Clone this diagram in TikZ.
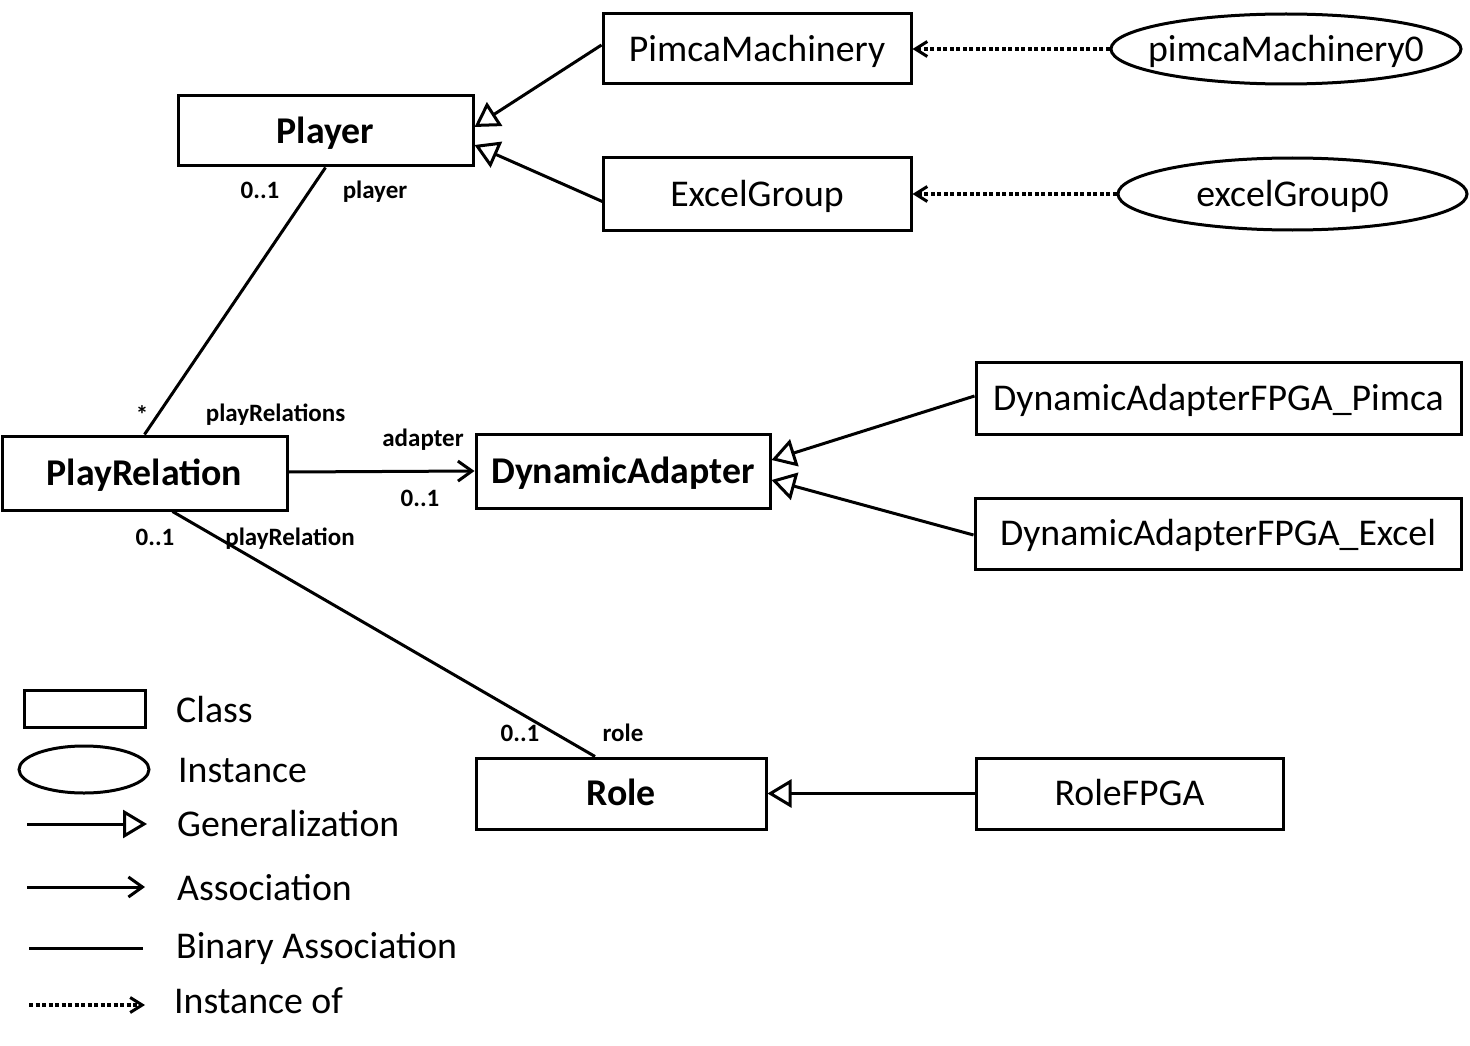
\documentclass[tikz,border=0pt]{standalone}
\usepackage{fontspec}
\setmainfont{Carlito}
\usetikzlibrary{shapes.geometric,arrows.meta,calc}
\newcommand\myLarge{\fontsize{37.8}{42}\selectfont}
\newcommand\mySmall{\fontsize{25}{28}\selectfont\bfseries}
\begin{document}
\begin{tikzpicture}[x=1pt,y=-1pt,
  cls/.style={draw,line width=3pt,rectangle,inner sep=0pt,font=\myLarge,text height=24.3pt,text depth=0pt},
  inst/.style={draw,line width=3pt,ellipse,inner sep=0pt},
  itxt/.style={inner sep=0pt,font=\myLarge,text height=24.3pt,text depth=0pt},
  lbl/.style={inner sep=0pt,font=\mySmall,text height=16.1pt,text depth=0pt},
  leg/.style={inner sep=0pt,font=\myLarge,text height=24.3pt,text depth=0pt,anchor=west},
  gen/.style={line width=3pt,-{Triangle[open,fill=white,length=24pt,width=28pt]}},
  assoc/.style={line width=3pt,-{Straight Barb[length=14pt,width=20pt]}},
  binassoc/.style={line width=3pt},
  instof/.style={line width=3.5pt,dash pattern=on 4pt off 2.5pt,-{Straight Barb[length=12pt,width=15pt,line width=3pt]}}
]
\useasboundingbox (0,0) rectangle (1470,1046);

% classes
\node[cls,minimum width=308pt,minimum height=70pt] (pm) at (757,49) {PimcaMachinery};
\node[cls,minimum width=295pt,minimum height=70pt,font=\myLarge\bfseries] (player) at (325.5,131) {Player};
\node[cls,minimum width=308pt,minimum height=72pt] (eg) at (757,194) {ExcelGroup};
\node[inst,minimum width=350pt,minimum height=70pt,label={[itxt]center:pimcaMachinery0}] (pm0) at (1286,49) {};
\node[inst,minimum width=349pt,minimum height=72pt,label={[itxt]center:excelGroup0}] (eg0) at (1292.5,194) {};
\node[cls,minimum width=285pt,minimum height=74pt,font=\myLarge\bfseries] (pr) at (144.5,473) {PlayRelation};
\node[cls,minimum width=294pt,minimum height=74pt,font=\myLarge\bfseries] (da) at (623,471) {DynamicAdapter};
\node[cls,minimum width=485pt,minimum height=72pt] (dap) at (1218.5,398) {DynamicAdapterFPGA\_Pimca};
\node[cls,minimum width=486pt,minimum height=71pt] (dae) at (1218,533.5) {DynamicAdapterFPGA\_Excel};
\node[cls,minimum width=290pt,minimum height=71pt,font=\myLarge\bfseries] (role) at (621,793.5) {Role};
\node[cls,minimum width=307pt,minimum height=71pt] (rf) at (1129.5,793.5) {RoleFPGA};

% generalizations
\draw[gen] ($(pm.west)+(0,-4)$) -- ($(player.east)+(0,-4)$);
\draw[gen] ($(eg.west)+(2,8)$) -- ($(player.east)+(0,14)$);
\draw[gen] ($(dap.west)+(0,-2)$) -- ($(da.east)+(0,-11)$);
\draw[gen] ($(dae.west)+(0,1.5)$) -- ($(da.east)+(0,9)$);
\draw[gen] (rf.west) -- (role.east);

% instance of
\draw[instof] (pm0.west) -- (pm.east);
\draw[instof] (eg0.west) -- (eg.east);

% associations
\draw[binassoc] (player.south) -- (pr.north);
\draw[assoc] ($(pr.east)+(0,-1)$) -- (da.west);
\draw[binassoc] ($(pr.south)+(28,0)$) -- ($(role.north)+(-26,0)$);

% labels
\node[lbl] (l1) at (260,190) {0..1};
\node[lbl] (l2) at (375,190) {player};
\node[lbl] (l3) at (142,415) {*};
\node[lbl] (l4) at (275.5,413) {playRelations};
\node[lbl] (l5) at (423,438) {adapter};
\node[lbl] (l6) at (420,498) {0..1};
\node[lbl] (l7) at (155,537) {0..1};
\node[lbl] (l8) at (290,537) {playRelation};
\node[lbl] (l9) at (520,733) {0..1};
\node[lbl] (l10) at (623,733) {role};

% legend
\node[draw,line width=3pt,rectangle,inner sep=0pt,minimum width=121pt,minimum height=37pt] (lgc) at (84.5,708.5) {};
\node[leg] (lgct) at (176,710) {Class};
\node[draw,line width=3pt,ellipse,inner sep=0pt,minimum width=130pt,minimum height=47pt] (lgi) at (84,769.5) {};
\node[leg] (lgit) at (178,770) {Instance};
\coordinate (g1) at (27,824);
\coordinate (g2) at (147,824);
\draw[gen] (g1) -- (g2);
\node[leg] (lggt) at (177,824) {Generalization};
\coordinate (a1) at (27,887);
\coordinate (a2) at (145,887);
\draw[assoc] (a1) -- (a2);
\node[leg] (lgat) at (177,888) {Association};
\coordinate (b1) at (29,948);
\coordinate (b2) at (143,948);
\draw[binassoc] (b1) -- (b2);
\node[leg] (lgbt) at (176,946) {Binary Association};
\coordinate (d1) at (29,1005);
\coordinate (d2) at (145,1005);
\draw[instof] (d1) -- (d2);
\node[leg] (lgdt) at (174,1001) {Instance of};
\end{tikzpicture}
\end{document}
